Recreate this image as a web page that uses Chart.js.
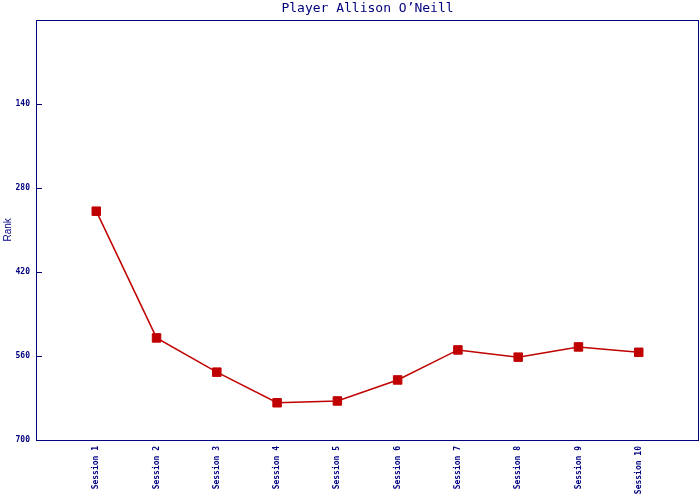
<!DOCTYPE html>
<html>
<head>
<meta charset="utf-8">
<script src="https://cdn.jsdelivr.net/npm/chart.js@4/dist/chart.umd.min.js"></script>
<style>
  html, body { margin: 0; padding: 0; background: #fff; }
  #wrap { width: 700px; height: 500px; }
</style>
</head>
<body>
<div id="wrap"><canvas id="myChart" width="700" height="500"></canvas></div>
<script>
(() => {
  'use strict'

  const titleText = 'Player Allison O\u2019Neill'
  const sessions = ['Session 1','Session 2','Session 3','Session 4','Session 5','Session 6','Session 7','Session 8','Session 9','Session 10']
  const ranks = [319, 530, 587, 638, 635, 600, 550, 562, 545, 554]
  const rankTicks = [140, 280, 420, 560, 700]

  const navy = '#000080'
  const red = '#c00000'

  // box round the plot and the small inward ticks
  const frame = {
    id: 'frame',
    afterDraw(chart) {
      const { ctx, scales } = chart
      ctx.save()
      ctx.strokeStyle = navy
      ctx.lineWidth = 1
      ctx.strokeRect(36.5, 20.5, 662, 420)
      ctx.beginPath()
      rankTicks.forEach(v => {
        const y = Math.round(scales.y.getPixelForValue(v)) + 0.5
        ctx.moveTo(36, y)
        ctx.lineTo(42, y)
      })
      ctx.stroke()
      ctx.restore()
    }
  }

  const ctx = document.getElementById('myChart')
  new Chart(ctx, {
    type: 'line',
    data: {
      datasets: [{
        data: ranks.map((r, i) => ({ x: i + 1, y: r })),
        borderColor: red,
        backgroundColor: red,
        borderWidth: 1.5,
        tension: 0,
        pointStyle: 'rect',
        pointRadius: 6,
        pointBorderWidth: 1,
        pointBorderColor: red,
        pointBackgroundColor: red
      }]
    },
    options: {
      responsive: false,
      animation: false,
      devicePixelRatio: 1,
      layout: { autoPadding: false, padding: { top: 0, right: 1, left: 0, bottom: 0 } },
      plugins: {
        legend: { display: false },
        tooltip: { enabled: false },
        title: {
          display: true,
          text: titleText,
          fullSize: false,
          color: navy,
          padding: { top: 1, bottom: 3 },
          font: { family: '"DejaVu Sans Mono", monospace', size: 13, weight: 'normal', lineHeight: 1.2 }
        }
      },
      scales: {
        x: {
          type: 'linear',
          min: 0,
          max: 11,
          afterFit(s) {
            s.height = 60
            s.paddingLeft = 0
            s.paddingRight = 0
          },
          afterBuildTicks(s) {
            s.ticks = sessions.map((_, i) => ({ value: i + 1 }))
          },
          grid: { display: false, drawTicks: false },
          border: { display: false },
          ticks: {
            autoSkip: false,
            minRotation: 90,
            maxRotation: 90,
            padding: 6,
            color: navy,
            font: { family: '"DejaVu Sans Mono", monospace', size: 8, weight: 'bold' },
            callback: v => sessions[v - 1] || ''
          }
        },
        y: {
          reverse: true,
          min: 0,
          max: 700,
          afterFit(s) {
            s.width = 36
            s.paddingTop = 0
            s.paddingBottom = 0
          },
          afterBuildTicks(s) {
            s.ticks = rankTicks.map(v => ({ value: v }))
          },
          grid: { display: false, drawTicks: false },
          border: { display: false },
          title: {
            display: true,
            text: 'Rank',
            color: navy,
            padding: { top: 2, bottom: 0 },
            font: { family: '"Liberation Sans", Arial, sans-serif', size: 10 }
          },
          ticks: {
            padding: 6,
            color: navy,
            font: { family: '"DejaVu Sans Mono", monospace', size: 8, weight: 'bold' }
          }
        }
      }
    },
    plugins: [frame]
  })
})()
</script>
</body>
</html>
